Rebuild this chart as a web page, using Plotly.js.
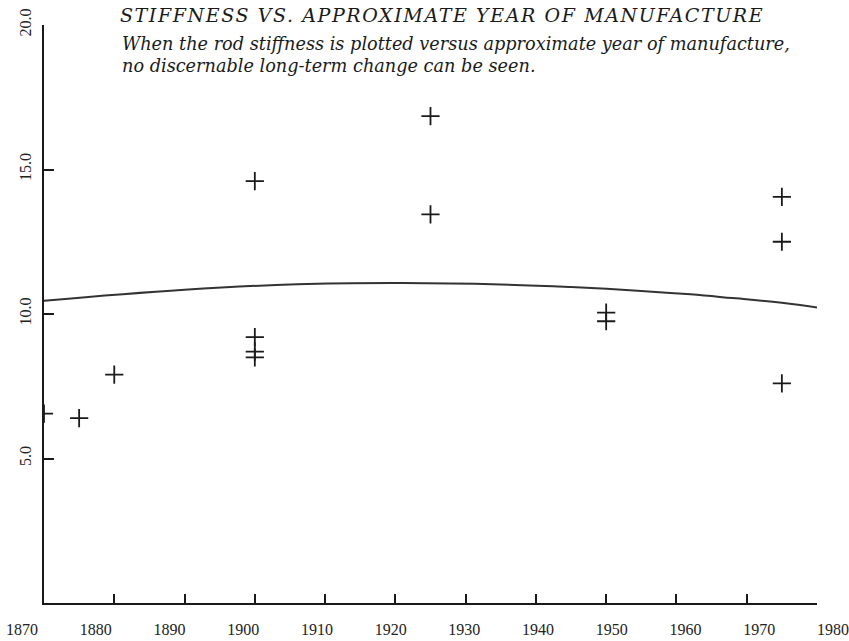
<!DOCTYPE html>
<html>
<head>
<meta charset="utf-8">
<script src="https://cdn.plot.ly/plotly-3.0.1.min.js"></script>
<style>
html,body{margin:0;padding:0;background:#fff;}
#chart{width:849px;height:641px;}
#chart .gtitle{letter-spacing:1.6px;}
</style>
</head>
<body>
<div id="chart"></div>
<script>
// Data
const years = [1870, 1875, 1880, 1900, 1900, 1900, 1900, 1925, 1925, 1950, 1950, 1975, 1975, 1975];
const stiffness = [6.55, 6.4, 7.9, 14.6, 9.2, 8.7, 8.5, 16.85, 13.45, 10.05, 9.75, 14.05, 12.5, 7.6];

const fitYears = [1870, 1890, 1906, 1921, 1935, 1945, 1955, 1962, 1968, 1975, 1981];
const fitValues = [10.46, 10.84, 11.03, 11.07, 11.02, 10.93, 10.80, 10.68, 10.55, 10.39, 10.19];

const xTickYears = [1870, 1880, 1890, 1900, 1910, 1920, 1930, 1940, 1950, 1960, 1970, 1980];
const xTickLabels = ['1870', '1880', '1890', '1900', '1910', '1920', '1930', '1940', '1950', '1960', '1970', '1980'];
const yTickVals = [5, 10, 15, 20];
const yTickLabels = ['5.0', '10.0', '15.0', '20.0'];

const titleText = 'STIFFNESS VS. APPROXIMATE YEAR OF MANUFACTURE';
const subLine1 = 'When the rod stiffness is plotted versus approximate year of manufacture,';
const subLine2 = 'no discernable long-term change can be seen.';

const serif = '"Liberation Serif", "DejaVu Serif", serif';
const wideSerif = '"DejaVu Serif", "Liberation Serif", serif';
const ink = '#1a1a1a';

const traces = [
  {
    x: fitYears, y: fitValues, type: 'scatter', mode: 'lines',
    line: {color: '#333', width: 2, shape: 'spline', smoothing: 1.2},
    hoverinfo: 'skip', cliponaxis: false, xaxis: 'x', yaxis: 'y'
  },
  {
    x: years, y: stiffness, type: 'scatter', mode: 'markers',
    marker: {symbol: 'cross-thin', size: 13, line: {color: ink, width: 1.8}, color: ink},
    cliponaxis: true, xaxis: 'x', yaxis: 'y'
  },
  {
    x: [xTickYears[0], xTickYears[xTickYears.length - 1]], y: [0, 0], type: 'scatter', mode: 'markers',
    marker: {opacity: 0, size: 1}, hoverinfo: 'skip', xaxis: 'x2', yaxis: 'y2'
  }
];

const layout = {
  width: 849, height: 641,
  margin: {l: 5, r: 5, t: 25, b: 38},
  paper_bgcolor: '#fff', plot_bgcolor: 'rgba(0,0,0,0)',
  showlegend: false,
  font: {family: serif, color: ink},
  title: {
    text: '<i>' + titleText + '</i>',
    font: {family: wideSerif, size: 19, color: ink},
    xref: 'container', x: 0.1413, xanchor: 'left',
    yref: 'container', y: 0.9766, yanchor: 'middle'
  },
  xaxis: {
    domain: [0.04648, 0.96782], anchor: 'y',
    range: [1870, 1980],
    showline: true, linecolor: ink, linewidth: 2,
    tickvals: xTickYears, ticks: 'inside', ticklen: 9, tickwidth: 2, tickcolor: ink,
    showticklabels: false, showgrid: false, zeroline: false
  },
  yaxis: {
    domain: [0, 1], anchor: 'x',
    range: [0, 20],
    showline: true, linecolor: ink, linewidth: 2,
    tickvals: yTickVals, ticktext: yTickLabels,
    ticks: 'inside', ticklen: 10, tickwidth: 2, tickcolor: ink,
    tickangle: -90, ticklabelstandoff: 5,
    tickfont: {family: serif, size: 16, color: '#222'},
    showgrid: false, zeroline: false
  },
  xaxis2: {
    domain: [0.02026, 0.98689], anchor: 'y2',
    range: [1870, 1980],
    showline: false, showgrid: false, zeroline: false,
    tickvals: xTickYears, ticktext: xTickLabels,
    ticks: 'outside', ticklen: 12, tickcolor: 'rgba(0,0,0,0)',
    tickfont: {family: serif, size: 16, color: '#222'}
  },
  yaxis2: {
    domain: [0, 1], anchor: 'x2', range: [0, 1],
    showline: false, showgrid: false, zeroline: false, showticklabels: false, ticks: ''
  },
  annotations: [
    {
      text: '<i>' + subLine1 + '</i>', xref: 'paper', yref: 'paper',
      x: 0.137, y: (603 - 44) / 578, xanchor: 'left', yanchor: 'middle', showarrow: false,
      font: {family: wideSerif, size: 17.7, color: ink}
    },
    {
      text: '<i>' + subLine2 + '</i>', xref: 'paper', yref: 'paper',
      x: 0.137, y: (603 - 66) / 578, xanchor: 'left', yanchor: 'middle', showarrow: false,
      font: {family: wideSerif, size: 17.7, color: ink}
    }
  ]
};

Plotly.newPlot('chart', traces, layout, {displayModeBar: false, staticPlot: true});
</script>
</body>
</html>
